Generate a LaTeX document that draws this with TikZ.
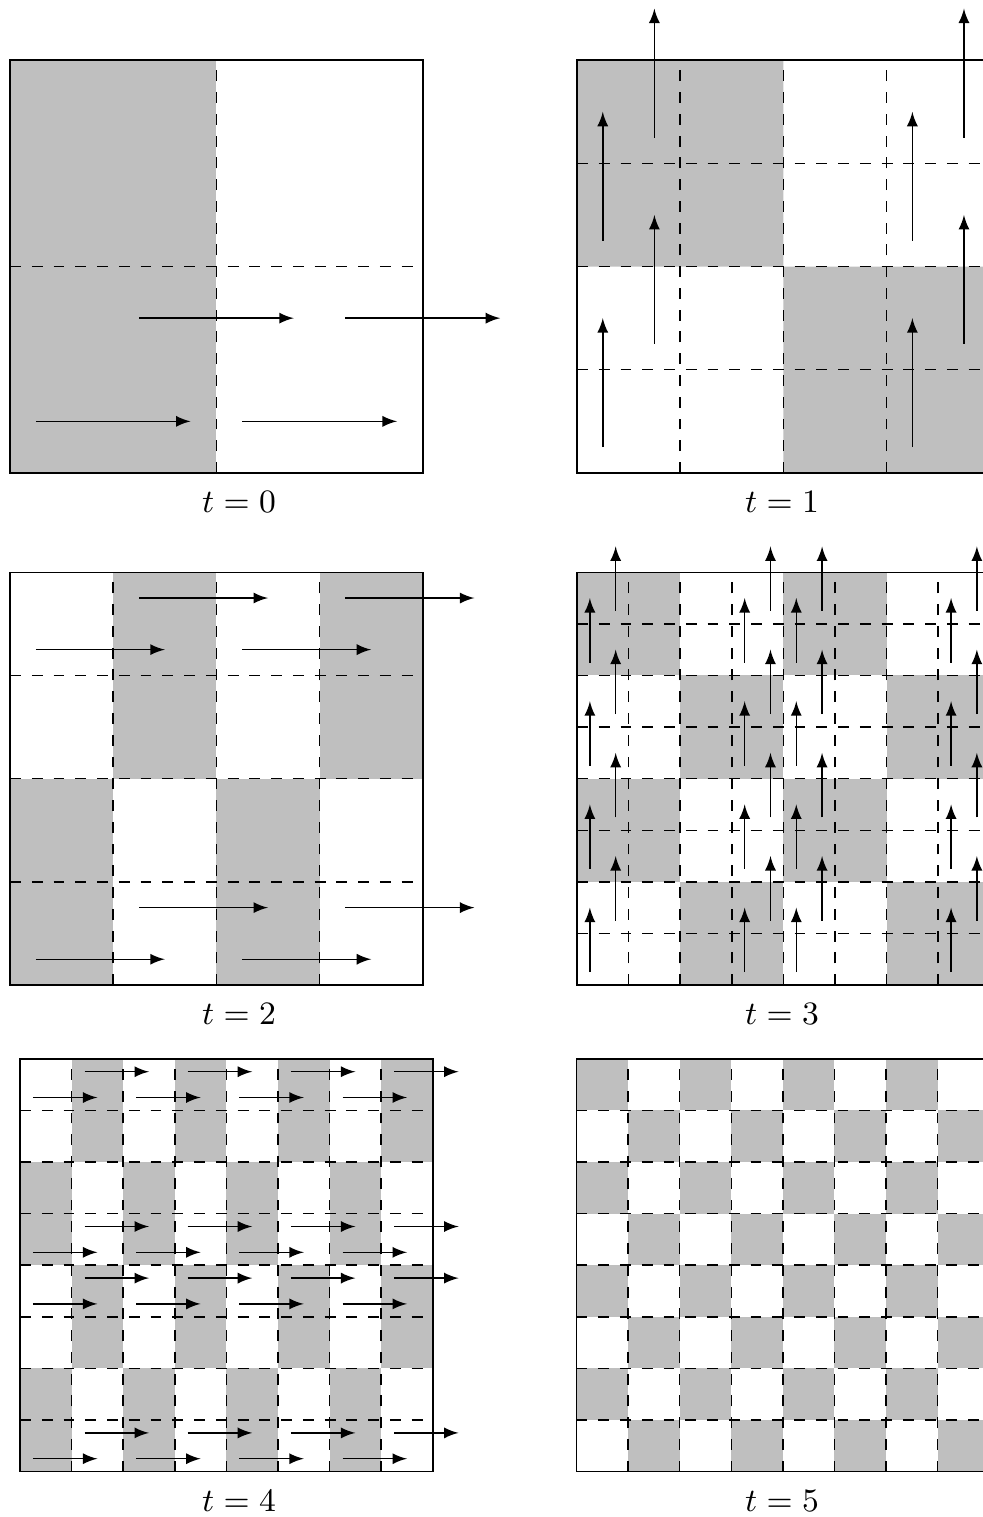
\documentclass[tikz,border=0pt]{standalone}
\begin{document}
\begin{tikzpicture}[graycell/.style={fill=lightgray}, cutline/.style={dashed}, flowarrow/.style={-latex}, steplabel/.style={anchor=base, font=\small}]
  \useasboundingbox (0,0) rectangle (9.516,-14.70);
  \begin{scope}[shift={(0.097,-4.583)}]
    \fill[graycell] (0,0) rectangle (2,4);
    \draw[cutline] (2,0) -- (2,4);
    \draw[cutline] (0,2) -- (4,2);
    \draw (0,0) rectangle (4,4);
    \foreach \b in {0,2}{
      \draw[flowarrow] (\b+0.25,0.5) -- ++(1.5,0);
      \draw[flowarrow] (\b+1.25,1.5) -- ++(1.5,0);
    }
    \node[steplabel] (t0) at (2.219,-0.385) {$t=0$};
  \end{scope}
  \begin{scope}[shift={(5.591,-4.583)}]
    \fill[graycell] (0,2) rectangle (2,4) (2,0) rectangle (4,2);
    \foreach \k in {1,2,3}{
      \draw[cutline] (\k,0) -- (\k,4);
      \draw[cutline] (0,\k) -- (4,\k);
    }
    \draw (0,0) rectangle (4,4);
    \foreach \a in {0.25,3.25}{
      \foreach \b in {0,2}{
        \draw[flowarrow] (\a,\b+0.25) -- ++(0,1.25);
        \draw[flowarrow] (\a+0.5,\b+1.25) -- ++(0,1.25);
      }
    }
    \node[steplabel] (t1) at (1.987,-0.385) {$t=1$};
  \end{scope}
  \begin{scope}[shift={(0.097,-9.545)}]
    \foreach \c in {0,...,3}{
      \foreach \r in {0,1}{
        \pgfmathtruncatemacro{\odd}{mod(\c+\r,2)}
        \ifnum\odd=0 \fill[graycell] (\c,2*\r) rectangle ++(1,2); \fi
      }
    }
    \foreach \k in {1,2,3}{
      \draw[cutline] (\k,0) -- (\k,4);
      \draw[cutline] (0,\k) -- (4,\k);
    }
    \draw (0,0) rectangle (4,4);
    \foreach \a in {0.25,3.25}{
      \foreach \b in {0,2}{
        \draw[flowarrow] (\b+0.25,\a) -- ++(1.25,0);
        \draw[flowarrow] (\b+1.25,\a+0.5) -- ++(1.25,0);
      }
    }
    \node[steplabel] (t2) at (2.219,-0.385) {$t=2$};
  \end{scope}
  \begin{scope}[shift={(5.591,-9.545)}]
    \foreach \c in {0,...,3}{
      \foreach \r in {0,...,3}{
        \pgfmathtruncatemacro{\odd}{mod(\c+\r,2)}
        \ifnum\odd=1 \fill[graycell] (\c,\r) rectangle ++(1,1); \fi
      }
    }
    \foreach \k in {0.5,1,...,3.5}{
      \draw[cutline] (\k,0) -- (\k,4);
      \draw[cutline] (0,\k) -- (4,\k);
    }
    \draw (0,0) rectangle (4,4);
    \foreach \a in {0.125,1.625,2.125,3.625}{
      \foreach \b in {0,...,3}{
        \draw[flowarrow] (\a,\b+0.125) -- ++(0,0.625);
        \draw[flowarrow] (\a+0.25,\b+0.625) -- ++(0,0.625);
      }
    }
    \node[steplabel] (t3) at (1.987,-0.385) {$t=3$};
  \end{scope}
  \begin{scope}[shift={(0.194,-14.26)}]
    \foreach \c in {0,...,7}{
      \foreach \r in {0,...,3}{
        \pgfmathtruncatemacro{\odd}{mod(\c+\r,2)}
        \ifnum\odd=0 \fill[graycell] (\c*0.5,\r) rectangle ++(0.5,1); \fi
      }
    }
    \foreach \k in {0.5,1,...,3.5}{
      \draw[cutline] (\k,0) -- (\k,4);
      \draw[cutline] (0,\k) -- (4,\k);
    }
    \draw (0,0) rectangle (4,4);
    \foreach \a in {0.125,1.625,2.125,3.625}{
      \foreach \b in {0,...,3}{
        \draw[flowarrow] (\b+0.125,\a) -- ++(0.625,0);
        \draw[flowarrow] (\b+0.625,\a+0.25) -- ++(0.625,0);
      }
    }
    \node[steplabel] (t4) at (2.122,-0.385) {$t=4$};
  \end{scope}
  \begin{scope}[shift={(5.586,-14.26)}]
    \foreach \c in {0,...,7}{
      \foreach \r in {0,...,7}{
        \pgfmathtruncatemacro{\odd}{mod(\c+\r,2)}
        \ifnum\odd=1 \fill[graycell] (\c*0.5,\r*0.5) rectangle ++(0.5,0.5); \fi
      }
    }
    \foreach \k in {0.5,1,...,3.5}{
      \draw[cutline] (\k,0) -- (\k,4);
      \draw[cutline] (0,\k) -- (4,\k);
    }
    \draw (0,0) rectangle (4,4);
    \node[steplabel] (t5) at (1.992,-0.385) {$t=5$};
  \end{scope}
\end{tikzpicture}
\end{document}
